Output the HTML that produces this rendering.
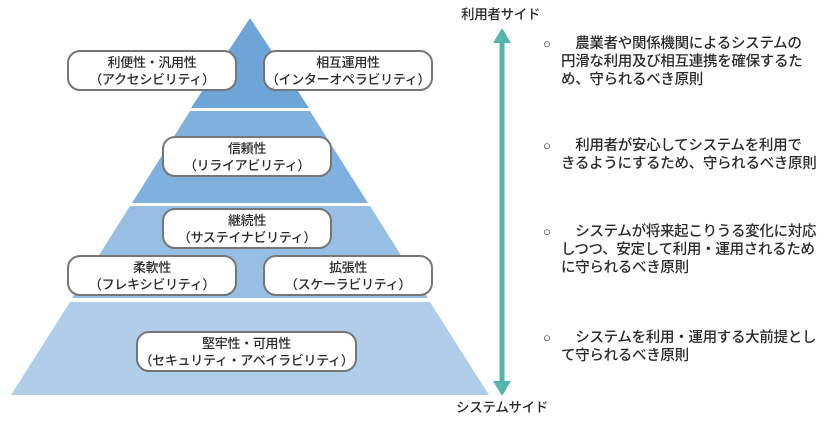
<!DOCTYPE html>
<html><head><meta charset="utf-8"><style>
body{margin:0;width:836px;height:421px;background:#fff;position:relative;overflow:hidden;font-family:"Liberation Sans","Noto Sans CJK JP",sans-serif;color:#2a2a2a}
.b{position:absolute;box-sizing:border-box;border:2px solid #767676;border-radius:13px;background:#fff;text-align:center;font-size:13px;line-height:17px;padding-top:2px;font-weight:500;letter-spacing:-0.3px}
.t{position:absolute;font-size:14.5px;line-height:18px;color:#2a2a2a;font-weight:500;white-space:nowrap;letter-spacing:-0.3px}
.o{position:absolute;left:-18px;top:0;font-size:13px;font-weight:700}
</style></head><body>
<svg width="836" height="421" style="position:absolute;left:0;top:0">
<polygon points="250,18 309,108 191,108" fill="#6ea5d8"/>
<polygon points="190,111 310,111 368,203 132,203" fill="#80b0de"/>
<polygon points="130,206 370,206 428,298 72,298" fill="#97bfe3"/>
<polygon points="70,302 430,302 489,395 11,395" fill="#b0cdea"/>
<rect x="499.5" y="40" width="5" height="344" fill="#55b5ab"/>
<polygon points="502,28 493,43 511,43" fill="#55b5ab"/>
<polygon points="502,396 493,381 511,381" fill="#55b5ab"/>
</svg>
<div class="b" style="left:67px;top:50px;width:170px;height:41px">利便性・汎用性<br>（アクセシビリティ）</div>
<div class="b" style="left:263px;top:50px;width:170px;height:41px">相互運用性<br>（インターオペラビリティ）</div>
<div class="b" style="left:162px;top:136px;width:170px;height:41px">信頼性<br>（リライアビリティ）</div>
<div class="b" style="left:162px;top:208px;width:170px;height:41px">継続性<br>（サステイナビリティ）</div>
<div class="b" style="left:67px;top:255px;width:170px;height:41px">柔軟性<br>（フレキシビリティ）</div>
<div class="b" style="left:263px;top:255px;width:170px;height:41px">拡張性<br>（スケーラビリティ）</div>
<div class="b" style="left:136px;top:331px;width:221px;height:41px">堅牢性・可用性<br>（セキュリティ・アベイラビリティ）</div>
<div class="t" style="left:461px;top:6px;font-size:13.5px">利用者サイド</div>
<div class="t" style="left:456px;top:399px;font-size:13.5px">システムサイド</div>
<div class="t" style="left:561px;top:35px"><span class="o">○</span>　農業者や関係機関によるシステムの<br>円滑な利用及び相互連携を確保するた<br>め、守られるべき原則</div>
<div class="t" style="left:561px;top:137px"><span class="o">○</span>　利用者が安心してシステムを利用で<br>きるようにするため、守られるべき原則</div>
<div class="t" style="left:561px;top:223px"><span class="o">○</span>　システムが将来起こりうる変化に対応<br>しつつ、安定して利用・運用されるため<br>に守られるべき原則</div>
<div class="t" style="left:561px;top:329px"><span class="o">○</span>　システムを利用・運用する大前提とし<br>て守られるべき原則</div>
</body></html>
